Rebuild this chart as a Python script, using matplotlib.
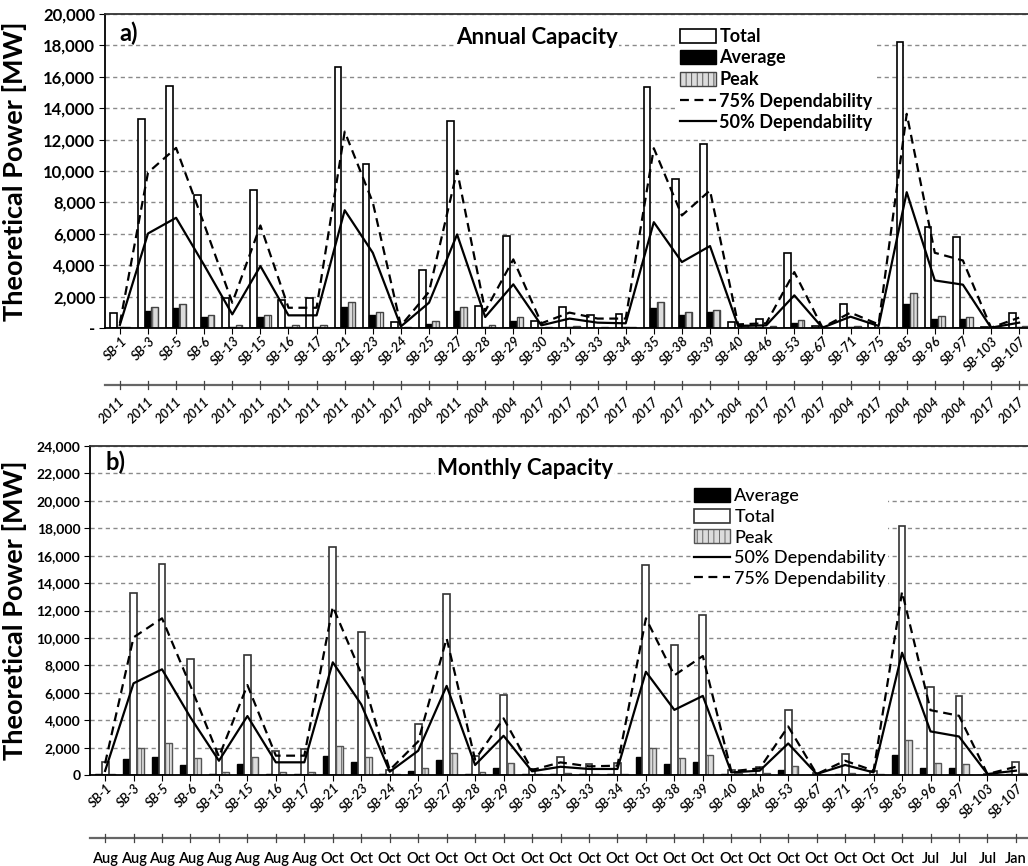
import matplotlib.pyplot as plt
from matplotlib.patches import Patch
from matplotlib.lines import Line2D
from matplotlib.ticker import FuncFormatter
from matplotlib.transforms import ScaledTranslation
import numpy as np

plt.rcParams["font.family"] = ["Lato", "DejaVu Sans"]
plt.rcParams["hatch.linewidth"] = 0.6

# site names and time labels
sites = ["SB-1", "SB-3", "SB-5", "SB-6", "SB-13", "SB-15", "SB-16", "SB-17", "SB-21",
         "SB-23", "SB-24", "SB-25", "SB-27", "SB-28", "SB-29", "SB-30", "SB-31", "SB-33",
         "SB-34", "SB-35", "SB-38", "SB-39", "SB-40", "SB-46", "SB-53", "SB-67", "SB-71",
         "SB-75", "SB-85", "SB-96", "SB-97", "SB-103", "SB-107"]
years = ["2011"] * 10 + ["2017", "2004", "2011", "2004", "2004", "2017", "2017", "2017",
                         "2017", "2017", "2017", "2011", "2004", "2017", "2017", "2017",
                         "2004", "2017", "2004", "2004", "2004", "2017", "2017"]
months = ["Aug"] * 8 + ["Oct"] * 21 + ["Jul", "Jul", "Jul", "Jan"]

# total capacity (same in both panels)
total = [950, 13300, 15400, 8440, 1910, 8760, 1760, 1910, 16650, 10450, 360, 3690, 13190,
         1390, 5850, 440, 1340, 800, 910, 15330, 9460, 11690, 380, 560, 4750, 150, 1510,
         300, 18200, 6420, 5770, 40, 960]

# a) annual
avg_a = [60, 1080, 1250, 700, 80, 700, 70, 80, 1340, 850, 30, 230, 1080, 60, 445, 20, 50,
         30, 40, 1270, 850, 1020, 30, 30, 340, 10, 60, 20, 1550, 550, 550, 5, 40]
peak_a = [80, 1315, 1550, 850, 170, 850, 170, 170, 1630, 1020, 50, 420, 1340, 210, 720, 40,
          130, 60, 80, 1680, 1020, 1170, 170, 100, 510, 15, 130, 40, 2250, 760, 700, 10, 130]
dep75_a = [300, 9900, 11470, 6600, 1610, 6530, 1290, 1290, 12510, 8000, 150, 2300, 10030,
           1080, 4370, 300, 980, 600, 600, 11450, 7170, 8760, 230, 300, 3560, 30, 980, 230,
           13640, 4790, 4300, 20, 660]
dep50_a = [200, 6020, 7020, 4000, 870, 3945, 806, 806, 7500, 4790, 100, 1610, 5960, 700,
           2780, 170, 600, 340, 300, 6740, 4200, 5220, 130, 170, 2080, 20, 720, 130, 8650,
           3030, 2760, 20, 340]

# b) monthly
avg_m = [40, 1140, 1340, 750, 100, 800, 100, 100, 1410, 925, 40, 300, 1130, 100, 510, 40,
         60, 40, 40, 1285, 775, 970, 40, 50, 360, 10, 70, 30, 1480, 530, 485, 10, 50]
peak_m = [60, 1990, 2310, 1215, 240, 1290, 240, 240, 2140, 1340, 70, 475, 1620, 220, 875,
          70, 160, 80, 100, 1940, 1240, 1490, 180, 120, 630, 20, 120, 60, 2570, 870, 800,
          15, 150]
dep50_m = [300, 6690, 7710, 4200, 1040, 4300, 925, 925, 8220, 5150, 240, 1770, 6500, 730,
           2860, 270, 600, 440, 440, 7530, 4750, 5770, 190, 315, 2300, 70, 730, 190, 8920,
           3180, 2810, 70, 315]
dep75_m = [850, 10040, 11430, 6500, 1330, 6560, 1410, 1410, 12280, 7400, 365, 2450, 9970,
           1120, 4130, 360, 920, 630, 680, 11430, 7270, 8680, 270, 485, 3540, 70, 1040, 315,
           13370, 4730, 4320, 70, 600]

x = np.arange(len(sites))
W = 0.24
PEAK_FC = "#dcdcdc"

fig = plt.figure(figsize=(10.28, 8.66), dpi=100)
ax1 = fig.add_axes([105 / 1028, 1 - 328 / 866, 929 / 1028, 314 / 866])
ax2 = fig.add_axes([90 / 1028, 1 - 775 / 866, 941 / 1028, 329 / 866])


def px(dx, dy):
    # pixel shift (figure is 100 dpi)
    return ScaledTranslation(dx / 100, dy / 100, fig.dpi_scale_trans)


def slanted(ax, y_axes, labels, dx, dy, size):
    # 45 degree labels, upper-right end near the category
    tr = ax.get_xaxis_transform() + px(dx, dy)
    for i in x:
        ax.text(i, y_axes, labels[i], transform=tr, rotation=45, rotation_mode="anchor",
                ha="right", va="center", fontsize=size, style="italic",
                fontweight="semibold")


def setup_axis(ax, ymax, fmt, tick_size):
    ax.set_xlim(-0.53, len(sites) - 0.47)
    ax.set_ylim(0, ymax)
    ax.set_yticks(np.arange(0, ymax + 1, 2000))
    ax.yaxis.set_major_formatter(FuncFormatter(fmt))
    ax.grid(axis="y", color="#8a8a8a", linestyle=(0, (3, 2.5)), linewidth=1)
    ax.set_axisbelow(True)
    for lab in ax.get_yticklabels():
        lab.set_fontsize(tick_size)
        lab.set_fontweight("bold")
    ax.tick_params(axis="y", length=4, pad=3)
    ax.set_xticks(x)
    ax.set_xticklabels([])
    ax.tick_params(axis="x", length=4)
    for s in ["left", "bottom", "top"]:
        ax.spines[s].set_linewidth(1.3)
    ax.spines["top"].set_color("#333333")
    ax.set_ylabel("Theoretical Power [MW]", fontsize=19.5, fontweight="bold")
    slanted(ax, 0, sites, 5, -11, 9.5)


def level_line(ax, y_line):
    tr = ax.get_xaxis_transform()
    x0, x1 = ax.get_xlim()
    ax.plot([x0, x1], [y_line, y_line], transform=tr, color="#666666", lw=1.6,
            clip_on=False)
    for i in x:
        ax.plot([i, i], [y_line - 0.012, y_line + 0.012], transform=tr, color="#444444",
                lw=0.9, clip_on=False)


# ---- panel a: annual ----
ax = ax1
setup_axis(ax, 20000, lambda v, p: "-" if v == 0 else f"{v:,.0f}", 12)
ax.bar(x - W, total, W, facecolor="white", edgecolor="black", lw=1.2, zorder=2)
ax.bar(x, avg_a, W, facecolor="black", edgecolor="black", lw=1.0, zorder=2)
ax.bar(x + W, peak_a, W, facecolor=PEAK_FC, edgecolor="#444444", lw=1.0, hatch="|||",
       zorder=2)
ax.plot(x, dep75_a, color="black", lw=1.6, dashes=(4, 2.5), zorder=3)
ax.plot(x, dep50_a, color="black", lw=1.6, zorder=3)
ax.yaxis.set_label_coords((27 - 105) / 929, 0.5)
ax.text(0.016, 0.94, "a)", transform=ax.transAxes, fontsize=17, fontweight="bold",
        va="center")
ax.text(0.465, 0.924, "Annual Capacity", transform=ax.transAxes, fontsize=16,
        fontweight="bold", ha="center", va="center",
        bbox=dict(facecolor="white", edgecolor="none", pad=1))
handles = [Patch(facecolor="white", edgecolor="black", lw=1.2),
           Patch(facecolor="black", edgecolor="black"),
           Patch(facecolor=PEAK_FC, edgecolor="#444444", hatch="|||"),
           Line2D([], [], color="black", lw=1.6, dashes=(4, 2.5)),
           Line2D([], [], color="black", lw=1.6)]
names = ["Total", "Average", "Peak", "75% Dependability", "50% Dependability"]
leg = ax.legend(handles, names, loc="upper left", bbox_to_anchor=(0.607, 0.99),
                prop={"weight": "bold", "size": 13},
                frameon=True, facecolor="white", edgecolor="none", framealpha=1,
                handlelength=2.0, handleheight=0.8, handletextpad=0.2,
                labelspacing=0.25, borderpad=0.1)
leg.set_zorder(5)
level_line(ax, -(385 - 328) / 314)
slanted(ax, -(385 - 328) / 314, years, 3, -15, 9.5)

# ---- panel b: monthly ----
ax = ax2
setup_axis(ax, 24000, lambda v, p: f"{v:,.0f}", 10)
ax.bar(x - W, avg_m, W, facecolor="black", edgecolor="black", lw=1.0, zorder=2)
ax.bar(x, total, W, facecolor="white", edgecolor="#333333", lw=1.2, zorder=2)
ax.bar(x + W, peak_m, W, facecolor=PEAK_FC, edgecolor="#555555", lw=1.0, hatch="|||",
       zorder=2)
ax.plot(x, dep75_m, color="black", lw=1.6, dashes=(4, 2.5), zorder=3)
ax.plot(x, dep50_m, color="black", lw=1.6, zorder=3)
ax.yaxis.set_label_coords((27 - 90) / 941, 0.5)
ax.text(0.016, 0.951, "b)", transform=ax.transAxes, fontsize=17, fontweight="bold",
        va="center")
ax.text(0.462, 0.933, "Monthly Capacity", transform=ax.transAxes, fontsize=16,
        fontweight="bold", ha="center", va="center",
        bbox=dict(facecolor="white", edgecolor="none", pad=1))
handles = [Patch(facecolor="black", edgecolor="black"),
           Patch(facecolor="white", edgecolor="#333333", lw=1.2),
           Patch(facecolor=PEAK_FC, edgecolor="#555555", hatch="|||"),
           Line2D([], [], color="black", lw=1.6),
           Line2D([], [], color="black", lw=1.6, dashes=(4, 2.5))]
names = ["Average", "Total", "Peak", "50% Dependability", "75% Dependability"]
leg = ax.legend(handles, names, loc="upper left", bbox_to_anchor=(0.63, 0.905),
                prop={"weight": "medium", "size": 13},
                frameon=True, facecolor="white", edgecolor="none", framealpha=1,
                handlelength=2.0, handleheight=0.8, handletextpad=0.25,
                labelspacing=0.25, borderpad=0.1)
leg.set_zorder(5)
y_line = -(838 - 775) / 329
level_line(ax, y_line)
tr = ax.get_xaxis_transform()
for i in x:
    ax.text(i, -(859 - 775) / 329, months[i], transform=tr, ha="center", va="center",
            fontsize=10.5, fontweight="semibold")

fig.savefig("out.png", dpi=100)
